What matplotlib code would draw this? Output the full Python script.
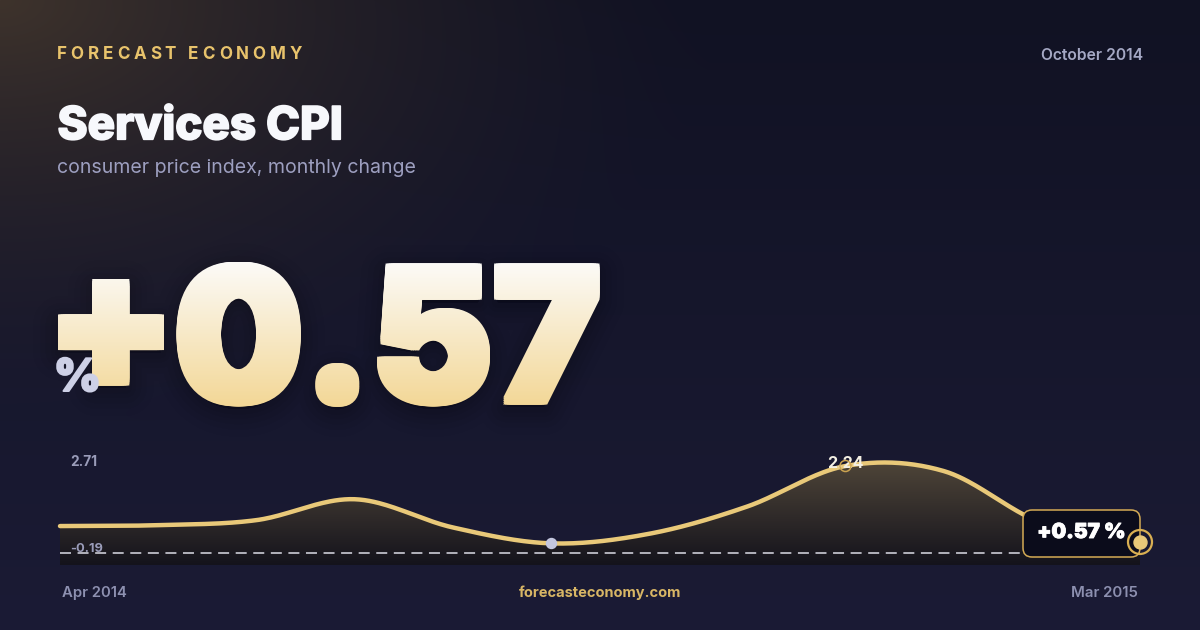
import os
import numpy as np
import matplotlib
matplotlib.use("Agg")
import matplotlib.pyplot as plt
from matplotlib import font_manager as fm
from matplotlib.font_manager import FontProperties
from matplotlib.textpath import TextPath
from matplotlib.patches import PathPatch, FancyBboxPatch, Polygon
from matplotlib.path import Path
from matplotlib.transforms import Affine2D
import matplotlib.patheffects as pe

# ---------------- data ----------------
brand = "FORECAST ECONOMY"
title = "Services CPI"
subtitle = "consumer price index, monthly change"
report_date = "October 2014"
site = "forecasteconomy.com"
months = ["Apr 2014", "May 2014", "Jun 2014", "Jul 2014", "Aug 2014", "Sep 2014",
          "Oct 2014", "Nov 2014", "Dec 2014", "Jan 2015", "Feb 2015", "Mar 2015"]
values = [0.92, 0.94, 1.05, 1.51, 0.89, 0.54, 0.75, 1.35, 2.24, 2.13, 0.99, 0.57]
range_labels = ["2.71", "-0.19"]
unit = "%"
ref_value = 0.33

W, H = 1200, 630
fig = plt.figure(figsize=(W / 100, H / 100), dpi=100)
R = fig.canvas.get_renderer()

FILES = [f.fname for f in fm.fontManager.ttflist]


def stem(p):
    b = os.path.splitext(os.path.basename(p))[0].lower()
    for ch in " -_":
        b = b.replace(ch, "")
    return b


def find_file(fams, weights):
    for fam in fams:
        for wk in weights:
            want = (fam + wk).lower()
            for p in FILES:
                if stem(p) == want:
                    return p
    return None


def fprop(fams, weights, fallback_weight):
    p = find_file(fams, weights)
    if p:
        return FontProperties(fname=p), True
    return FontProperties(family=list(fams) + ["DejaVu Sans"], weight=fallback_weight), False


fp_black, ok_black = fprop(["Inter", "Roboto", "Lato"], ["Black", "Heavy"], "black")
fp_xbold, ok_xbold = fprop(["Inter"], ["ExtraBold", "Black"], "heavy")
if not ok_xbold:
    fp_xbold, ok_xbold = fprop(["Roboto", "Lato"], ["Black", "ExtraBold"], "heavy")
fp_bold, _ = fprop(["Inter", "Roboto", "Lato"], ["Bold"], "bold")
fp_semi, _ = fprop(["Inter", "Roboto", "Lato"], ["SemiBold", "Medium", "Bold"], "semibold")
fp_reg, _ = fprop(["Inter", "Roboto", "Lato"], ["Regular", ""], "normal")


def put(ax, x, y, s, fp, px, color, ha="left", va="baseline", width=None, z=5, embolden=0, **kw):
    p = fp.copy()
    p.set_size(px * 0.72)
    if width is not None:
        w = R.get_text_width_height_descent(s, p, ismath=False)[0]
        p.set_size(px * 0.72 * (width - embolden) / w)
    t = ax.text(x, y, s, fontproperties=p, color=color, ha=ha, va=va, zorder=z, **kw)
    if embolden > 0:
        t.set_path_effects([pe.withStroke(linewidth=embolden * 0.72, foreground=color)])
    return t


def spaced(ax, x, y, s, fp, px, color, total, z=5):
    p = fp.copy()
    p.set_size(px * 0.72)

    def wid(t):
        return R.get_text_width_height_descent(t, p, ismath=False)[0]

    base = wid("HH")
    ws = [wid("H" + c + "H") - base for c in s]
    extra = (total - sum(ws)) / (len(s) - 1)
    cx = x
    for c, w in zip(s, ws):
        if c != " ":
            ax.text(cx, y, c, fontproperties=p, color=color, ha="left", va="baseline", zorder=z)
        cx += w + extra


# ---------------- background ----------------
bg = fig.add_axes([0, 0, 1, 1])
bg.set_xlim(0, W)
bg.set_ylim(H, 0)
bg.axis("off")

yy, xx = np.mgrid[0:H, 0:W]
top = np.array([0x11, 0x12, 0x23]) / 255
bot = np.array([0x1b, 0x1b, 0x35]) / 255
t = (yy / H)[..., None]
img = top * (1 - t) + bot * t
d = np.sqrt((xx / 720.0) ** 2 + (yy / 430.0) ** 2)
g = (np.clip(1 - d, 0, 1) ** 1.5)[..., None]
warm = np.array([0x3e, 0x33, 0x2c]) / 255
img = img * (1 - g) + warm * g
bg.imshow(img, extent=[0, W, H, 0], aspect="auto", zorder=0, interpolation="bilinear")

# header texts
spaced(bg, 56.7, 59, brand, fp_bold, 17, "#e8c36c", total=245)
put(bg, 1142.7, 60, report_date, fp_semi, 15, "#a5a8c4", ha="right", width=102)
put(bg, 57.5, 139.3, title, fp_xbold, 44, "#f7f8fc", width=287, embolden=1.7)
put(bg, 57, 172.7, subtitle, fp_reg, 20, "#9d9fc0", width=358)

# big number with gradient fill (emboldened by square-offset copies)
big = f"{values[-1]:+.2f}"
r = 3.5


def fitted(s, bx0, bx1, byt, byb):
    tp = TextPath((0, 0), s, size=100, prop=fp_black.copy())
    ext = tp.get_extents()
    a0, a1, at, ab = bx0 + r, bx1 - r, byt + r, byb - r
    sx = (a1 - a0) / ext.width
    sy = (ab - at) / ext.height
    tr = Affine2D().translate(-ext.x0, -ext.y0).scale(sx, -sy).translate(a0, ab)
    return tr.transform_path(tp)


p_sign = fitted(big[0], 57.6, 164.0, 279.0, 385.5)
p_num = fitted(big[1:], 176.6, 599.5, 261.7, 406.7)
bpath = Path.make_compound_path(p_sign, p_num)

# soft shadow
spath = Affine2D().translate(0, 6).transform_path(bpath)
for lw, a in [(40, 0.02), (30, 0.025), (22, 0.03), (14, 0.035), (8, 0.04)]:
    bg.add_patch(PathPatch(spath, fc=(0, 0, 0, a), ec=(0, 0, 0, a), lw=lw,
                           joinstyle="round", zorder=2))

grad = np.linspace(0, 1, 256)[:, None, None]
c_top = np.array([252, 251, 248]) / 255
c_bot = np.array([243, 215, 150]) / 255
gimg = c_top * (1 - grad) + c_bot * grad
offs = np.linspace(-r, r, 5)
for dx in offs:
    for dy in offs:
        cp = Affine2D().translate(dx, dy).transform_path(bpath)
        clip = PathPatch(cp, fc="none", ec="none", transform=bg.transData)
        bg.add_patch(clip)
        im = bg.imshow(gimg, extent=[57.6, 599.5, 406.7, 261.7], aspect="auto", zorder=4,
                       interpolation="bilinear")
        im.set_clip_path(clip)
bg.set_xlim(0, W)
bg.set_ylim(H, 0)

put(bg, 54, 391, unit, fp_black, 60, "#cdd0e6", width=49, z=6, embolden=2.0)

# bottom texts
put(bg, 62, 597.3, months[0], fp_semi, 14.5, "#8d90b0", width=65)
put(bg, 600, 597.3, site, fp_bold, 14.5, "#d8b665", ha="center", width=163)
put(bg, 1138, 597.3, months[-1], fp_semi, 14.5, "#8d90b0", ha="right", width=67)

# ---------------- chart ----------------
ylo, yhi = 0.064, 2.482
ax = fig.add_axes([60 / W, (H - 565) / H, 1080 / W, 110 / H])
ax.set_xlim(0, len(values) - 1)
ax.set_ylim(ylo, yhi)
ax.axis("off")
ax.patch.set_alpha(0)


def catmull(yv, n=40):
    yv = np.asarray(yv, float)
    m = np.empty_like(yv)
    m[1:-1] = (yv[2:] - yv[:-2]) / 2
    m[0] = (yv[1] - yv[0]) / 2
    m[-1] = (yv[-1] - yv[-2]) / 2
    xs, ys = [], []
    for i in range(len(yv) - 1):
        tt = np.linspace(0, 1, n, endpoint=(i == len(yv) - 2))
        h00 = 2 * tt**3 - 3 * tt**2 + 1
        h10 = tt**3 - 2 * tt**2 + tt
        h01 = -2 * tt**3 + 3 * tt**2
        h11 = tt**3 - tt**2
        ys.append(h00 * yv[i] + h10 * m[i] + h01 * yv[i + 1] + h11 * m[i + 1])
        xs.append(i + tt)
    return np.concatenate(xs), np.concatenate(ys)


xs, ys = catmull(values)
verts = [(xs[0], ylo)] + list(zip(xs, ys)) + [(xs[-1], ylo)]
poly = Polygon(verts, closed=True, fc="none", ec="none")
ax.add_patch(poly)
fg = np.linspace(0, 1, 256)[:, None, None]
f_top = np.array([0x52, 0x48, 0x3a]) / 255
f_bot = np.array([0x14, 0x13, 0x1c]) / 255
fimg = f_top * (1 - fg) + f_bot * fg
fim = ax.imshow(fimg, extent=[0, len(values) - 1, ylo, yhi], aspect="auto",
                zorder=1, interpolation="bilinear")
fim.set_clip_path(poly)
ax.set_xlim(0, len(values) - 1)
ax.set_ylim(ylo, yhi)

ax.axhline(ref_value, color="#dcdce6", lw=1.1, dashes=(7.2, 4.3), zorder=3)
ax.plot(xs, ys, color="#e9c979", lw=3.2, solid_capstyle="round", zorder=4, clip_on=False)

imin = int(np.argmin(values))
imax = int(np.argmax(values))
ax.scatter([imin], [values[imin]], s=(10 * 0.72) ** 2, color="#c4c7df", zorder=6, clip_on=False)
lp = fp_bold.copy()
lp.set_size(16 * 0.72)
ax.annotate(f"{values[imax]:.2f}", (imax, values[imax]), xytext=(0, -1.6),
            textcoords="offset points", ha="center", va="baseline",
            fontproperties=lp, color="#f3efe3", zorder=5, annotation_clip=False)
ax.scatter([imax], [values[imax]], s=(11 * 0.72) ** 2, facecolor="none",
           edgecolor="#cba350", lw=1.1, zorder=7, clip_on=False)

# ---------------- overlay ----------------
ov = fig.add_axes([0, 0, 1, 1])
ov.axis("off")
ov.patch.set_alpha(0)
box = FancyBboxPatch((1023, 510), 117, 47, boxstyle="round,pad=0,rounding_size=9",
                     fc="#0b0c1b", ec="#d4ab55", lw=1.1, zorder=3)
ov.add_patch(box)
put(ov, 1081.5, 538, f"{values[-1]:+.2f} %", fp_black, 20, "#ffffff", ha="center",
    width=89, z=4, embolden=0.9)
put(ov, 70, 466, range_labels[0], fp_bold, 12.4, "#9a9cb9", width=27)
put(ov, 70, 551.7, range_labels[1], fp_bold, 12.4, "#9a9cb9", width=33)
n = len(values) - 1
ov.scatter([n], [values[-1]], transform=ax.transData, s=(24 * 0.72) ** 2, facecolor="none",
           edgecolor="#d9af52", lw=1.6, zorder=8, clip_on=False)
ov.scatter([n], [values[-1]], transform=ax.transData, s=(13 * 0.72) ** 2, color="#e9c979",
           zorder=9, clip_on=False)
ov.set_xlim(0, W)
ov.set_ylim(H, 0)

fig.savefig("out.png", dpi=100)
